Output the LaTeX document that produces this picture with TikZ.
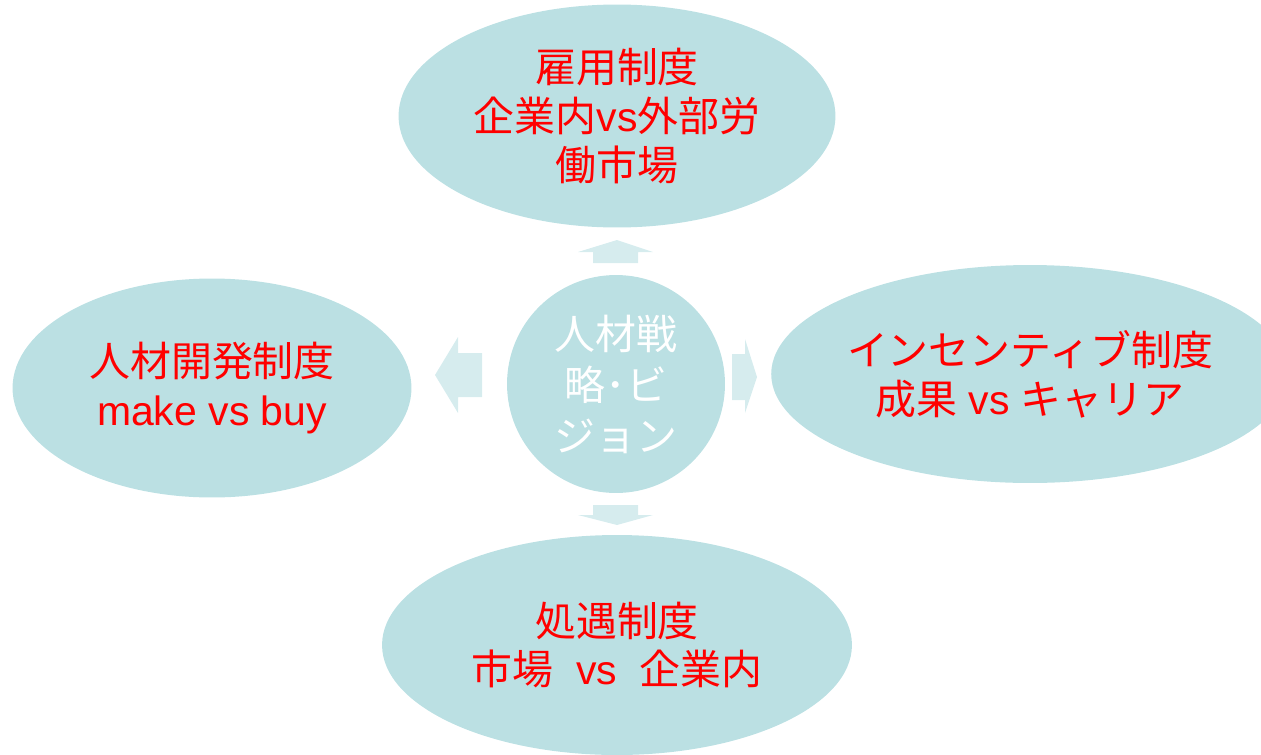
\documentclass[tikz,border=0pt]{standalone}
\usepackage{fontspec}
\setmainfont{Noto Sans CJK JP}
\newfontfamily\lat{Liberation Sans}
\usetikzlibrary{shapes.geometric}
\definecolor{bubblefill}{HTML}{BBE0E3}
\definecolor{arrowfill}{HTML}{D6ECEE}
\definecolor{labelred}{HTML}{FF0000}
\tikzset{
  bubble/.style={ellipse, fill=bubblefill, inner sep=0pt, text=labelred,
    align=center, font=\fontsize{23.3}{27.8}\selectfont},
  hub/.style={circle, fill=bubblefill, inner sep=0pt, text=white,
    align=center, font=\fontsize{23.3}{29}\selectfont, minimum size=4.36cm},
  spoke/.style={fill=arrowfill}
}
\begin{document}
\begin{tikzpicture}[x=0.02cm, y=-0.02cm]
    \clip (0,0) rectangle (1261,754);
    % ellipses
    \node[bubble, minimum width=8.74cm, minimum height=4.46cm] (hire) at (617,116)
      {雇用制度\\企業内{\lat vs}外部労\\働市場};
    \node[bubble, minimum width=10.08cm, minimum height=4.36cm] (incent) at (1030,374)
      {インセンティブ制度\\成果{\lat\ vs\ }キャリア};
    \node[bubble, minimum width=7.98cm, minimum height=4.38cm] (dev) at (212,388)
      {人材開発制度\\{\lat make vs buy}};
    \node[bubble, minimum width=9.4cm, minimum height=4.4cm] (treat) at (617,645)
      {処遇制度\\市場{\lat~~vs~~}企業内};
    \node[hub] (vision) at (616,384) {人材戦\\略･ビ\\ジョン};
    % arrows
    \fill[spoke] (593,263) -- (593,252) -- (578,252) -- (617,240) -- (653,252) -- (638,252) -- (638,263) -- cycle;
    \fill[spoke] (593,505) -- (638,505) -- (638,515) -- (653,515) -- (617,525) -- (578,515) -- (593,515) -- cycle;
    \fill[spoke] (482,353) -- (458,353) -- (458,337) -- (435,375) -- (458,413) -- (458,397) -- (482,397) -- cycle;
    \fill[spoke] (732,354) -- (745,354) -- (745,339) -- (757,377) -- (745,413) -- (745,400) -- (732,400) -- cycle;
\end{tikzpicture}
\end{document}
